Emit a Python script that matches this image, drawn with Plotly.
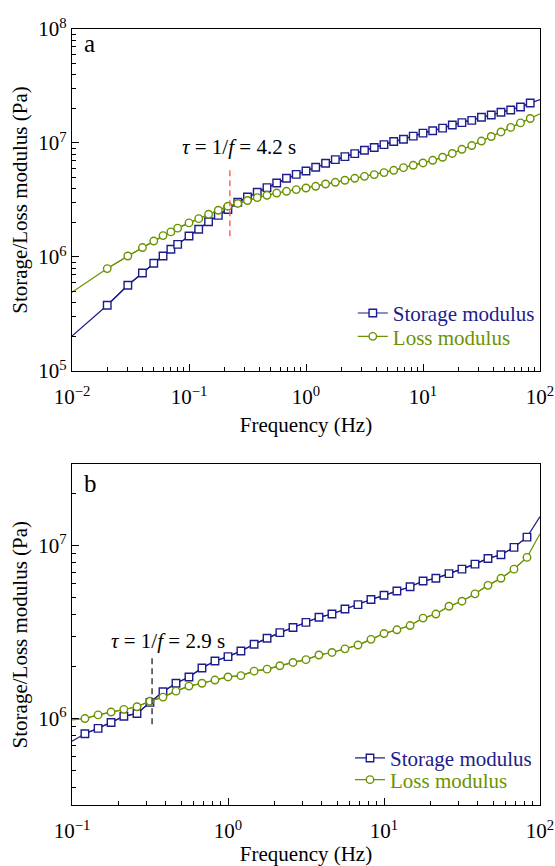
import math
import plotly.graph_objects as go

# ---------------- data ----------------
freq_a = [0.01, 0.02, 0.03, 0.04, 0.05, 0.06, 0.07, 0.08,
          0.1, 0.121, 0.147, 0.178, 0.215, 0.261, 0.316, 0.383, 0.464, 0.562, 0.681, 0.825,
          1.0, 1.21, 1.47, 1.78, 2.15, 2.61, 3.16, 3.83, 4.64, 5.62, 6.81, 8.25,
          10.0, 12.1, 14.7, 17.8, 21.5, 26.1, 31.6, 38.3, 46.4, 56.2, 68.1, 82.5, 100.0]
storage_a = [2.03e5, 3.77e5, 5.65e5, 7.24e5, 8.8e5, 1.02e6, 1.17e6, 1.29e6,
             1.53e6, 1.75e6, 2.04e6, 2.32e6, 2.61e6, 3.02e6, 3.36e6, 3.70e6, 4.06e6, 4.46e6, 4.90e6, 5.31e6,
             5.68e6, 6.12e6, 6.64e6, 7.14e6, 7.59e6, 8.07e6, 8.63e6, 9.12e6, 9.68e6, 1.03e7, 1.08e7, 1.15e7,
             1.22e7, 1.28e7, 1.35e7, 1.44e7, 1.51e7, 1.58e7, 1.68e7, 1.76e7, 1.86e7, 1.95e7, 2.07e7, 2.24e7, 2.40e7]
loss_a = [4.90e5, 7.91e5, 1.02e6, 1.21e6, 1.38e6, 1.54e6, 1.66e6, 1.79e6,
          1.99e6, 2.17e6, 2.37e6, 2.57e6, 2.79e6, 2.95e6, 3.13e6, 3.32e6, 3.48e6, 3.64e6, 3.77e6, 3.90e6,
          4.03e6, 4.17e6, 4.37e6, 4.52e6, 4.71e6, 4.90e6, 5.10e6, 5.28e6, 5.50e6, 5.76e6, 6.08e6, 6.37e6,
          6.68e6, 7.05e6, 7.50e6, 8.10e6, 8.80e6, 9.50e6, 1.04e7, 1.14e7, 1.25e7, 1.37e7, 1.50e7, 1.64e7, 1.80e7]

freq_b = [0.1, 0.121, 0.147, 0.178, 0.215, 0.261, 0.316, 0.383, 0.464, 0.562, 0.681, 0.825,
          1.0, 1.21, 1.47, 1.78, 2.15, 2.61, 3.16, 3.83, 4.64, 5.62, 6.81, 8.25,
          10.0, 12.1, 14.7, 17.8, 21.5, 26.1, 31.6, 38.3, 46.4, 56.2, 68.1, 82.5, 100.0]
storage_b = [7.40e5, 8.17e5, 8.77e5, 9.48e5, 1.03e6, 1.07e6, 1.24e6, 1.43e6, 1.60e6, 1.74e6, 1.96e6, 2.15e6,
             2.28e6, 2.46e6, 2.69e6, 2.91e6, 3.14e6, 3.36e6, 3.60e6, 3.85e6, 4.02e6, 4.30e6, 4.56e6, 4.88e6,
             5.16e6, 5.46e6, 5.78e6, 6.24e6, 6.47e6, 6.89e6, 7.31e6, 7.82e6, 8.43e6, 8.85e6, 9.77e6, 1.12e7, 1.47e7]
loss_b = [9.83e5, 1.00e6, 1.05e6, 1.09e6, 1.13e6, 1.17e6, 1.26e6, 1.33e6, 1.44e6, 1.54e6, 1.60e6, 1.67e6,
          1.74e6, 1.77e6, 1.88e6, 1.93e6, 2.02e6, 2.11e6, 2.19e6, 2.33e6, 2.41e6, 2.53e6, 2.66e6, 2.87e6,
          3.10e6, 3.26e6, 3.45e6, 3.81e6, 4.02e6, 4.46e6, 4.77e6, 5.26e6, 5.89e6, 6.47e6, 7.31e6, 8.55e6, 1.17e7]

# relaxation markers (frequency, y-span)
cross_a_freq = 0.2236
cross_a_y = [1.52e6, 5.96e6]
cross_b_freq = 0.326
cross_b_y = [9.27e5, 2.34e6]
label_a_text = "<i>τ</i> = 1/<i>f</i> = 4.2 s"
label_b_text = "<i>τ</i> = 1/<i>f</i> = 2.9 s"

# tick labels
xticks_a = [0.01, 0.1, 1, 10, 100]
xticktext_a = ["10<sup>−2</sup>", "10<sup>−1</sup>", "10<sup>0</sup>", "10<sup>1</sup>", "10<sup>2</sup>"]
yticks_a = [1e5, 1e6, 1e7, 1e8]
yticktext_a = ["10<sup>5</sup>", "10<sup>6</sup>", "10<sup>7</sup>", "10<sup>8</sup>"]
xticks_b = [0.1, 1, 10, 100]
xticktext_b = ["10<sup>−1</sup>", "10<sup>0</sup>", "10<sup>1</sup>", "10<sup>2</sup>"]
yticks_b = [1e6, 1e7]
yticktext_b = ["10<sup>6</sup>", "10<sup>7</sup>"]

series_names = ["Storage modulus", "Loss modulus"]
x_title = "Frequency (Hz)"
y_title = "Storage/Loss modulus (Pa)"

# ---------------- style ----------------
BLUE = "#1c1c8c"
GREEN = "#6b9300"
FONT = "Liberation Serif, Times New Roman, serif"


def minor_vals(lo, hi):
    return [m * 10.0 ** e for e in range(lo, hi) for m in range(2, 10)]


fig = go.Figure()


def add_panel(freq, stor, loss, xa, ya, legs):
    for vals, color, sym, name, leg in [(stor, BLUE, "square", series_names[0], legs[0]),
                                        (loss, GREEN, "circle", series_names[1], legs[1])]:
        fig.add_trace(go.Scatter(x=freq, y=vals, mode="lines", line=dict(color=color, width=1.2),
                                 xaxis=xa, yaxis=ya, showlegend=False, hoverinfo="skip"))
        fig.add_trace(go.Scatter(x=freq[1:-1], y=vals[1:-1], mode="lines+markers",
                                 line=dict(color=color, width=1.2),
                                 marker=dict(symbol=sym, size=7.5, color="white",
                                             line=dict(color=color, width=1.4)),
                                 name=f"<span style='color:{color}'>{name}</span>",
                                 xaxis=xa, yaxis=ya, legend=leg, showlegend=True))


add_panel(freq_a, storage_a, loss_a, "x", "y", ["legend", "legend2"])
add_panel(freq_b, storage_b, loss_b, "x2", "y2", ["legend3", "legend4"])

# dashed relaxation lines
fig.add_trace(go.Scatter(x=[cross_a_freq, cross_a_freq], y=cross_a_y, mode="lines",
                         line=dict(color="#ff4f4f", width=1.3, dash="6px,4px"),
                         xaxis="x", yaxis="y", showlegend=False, hoverinfo="skip"))
fig.add_trace(go.Scatter(x=[cross_b_freq, cross_b_freq], y=cross_b_y, mode="lines",
                         line=dict(color="#222222", width=1.3, dash="6px,4px"),
                         xaxis="x2", yaxis="y2", showlegend=False, hoverinfo="skip"))

axis_common = dict(type="log", showline=True, linecolor="black", linewidth=1.3, mirror=True,
                   ticks="inside", ticklen=7, tickwidth=1.1, tickcolor="black",
                   showgrid=False, zeroline=False, tickmode="array", automargin=False,
                   tickfont=dict(family=FONT, size=21, color="black"))
minor_common = dict(ticks="inside", ticklen=4, tickwidth=1, tickcolor="black", tickmode="array")

fig.update_layout(
    width=555, height=866,
    margin=dict(l=72, r=15, t=29, b=61, autoexpand=False),
    paper_bgcolor="white", plot_bgcolor="white",
    font=dict(family=FONT, size=21, color="black"),
    xaxis=dict(axis_common, domain=[0, 1], range=[-2, 2], anchor="y",
               tickvals=xticks_a, ticktext=xticktext_a, ticklabelstandoff=7,
               minor=dict(minor_common, tickvals=minor_vals(-2, 2)),
               title=dict(text=x_title, font=dict(family=FONT, size=21, color="black"), standoff=8)),
    yaxis=dict(axis_common, domain=[0.5593, 1], range=[5, 8], anchor="x",
               tickvals=yticks_a, ticktext=yticktext_a,
               minor=dict(minor_common, tickvals=minor_vals(5, 8)),
               title=dict(text=y_title, font=dict(family=FONT, size=21, color="black"), standoff=4)),
    xaxis2=dict(axis_common, domain=[0, 1], range=[-1, 2], anchor="y2",
                tickvals=xticks_b, ticktext=xticktext_b, ticklabelstandoff=7,
                minor=dict(minor_common, tickvals=minor_vals(-1, 2)),
                title=dict(text=x_title, font=dict(family=FONT, size=21, color="black"), standoff=8)),
    yaxis2=dict(axis_common, domain=[0, 0.4390], range=[5.5, 7.47], anchor="x2",
                tickvals=yticks_b, ticktext=yticktext_b,
                minor=dict(minor_common, tickvals=minor_vals(5, 8)),
                title=dict(text=y_title, font=dict(family=FONT, size=21, color="black"), standoff=4)),
)

leg_common = dict(xanchor="left", yanchor="middle", bgcolor="rgba(0,0,0,0)", borderwidth=0,
                  font=dict(family=FONT, size=21), itemwidth=30, tracegroupgap=0)
fig.update_layout(
    legend=dict(leg_common, x=0.600, y=0.6336),
    legend2=dict(leg_common, x=0.600, y=0.6035),
    legend3=dict(leg_common, x=0.594, y=0.0602),
    legend4=dict(leg_common, x=0.594, y=0.0322),
)

fig.add_annotation(text=label_a_text, x=math.log10(0.266), y=6.965, xref="x", yref="y",
                   showarrow=False, font=dict(family=FONT, size=21, color="black"))
fig.add_annotation(text=label_b_text, x=math.log10(0.412), y=6.449, xref="x2", yref="y2",
                   showarrow=False, font=dict(family=FONT, size=21, color="black"))
fig.add_annotation(text="a", x=0.022, y=0.957, xref="x domain", yref="y domain",
                   xanchor="left", yanchor="middle", showarrow=False,
                   font=dict(family=FONT, size=25, color="black"))
fig.add_annotation(text="b", x=0.022, y=0.945, xref="x2 domain", yref="y2 domain",
                   xanchor="left", yanchor="middle", showarrow=False,
                   font=dict(family=FONT, size=25, color="black"))

fig.write_html("out.html")
